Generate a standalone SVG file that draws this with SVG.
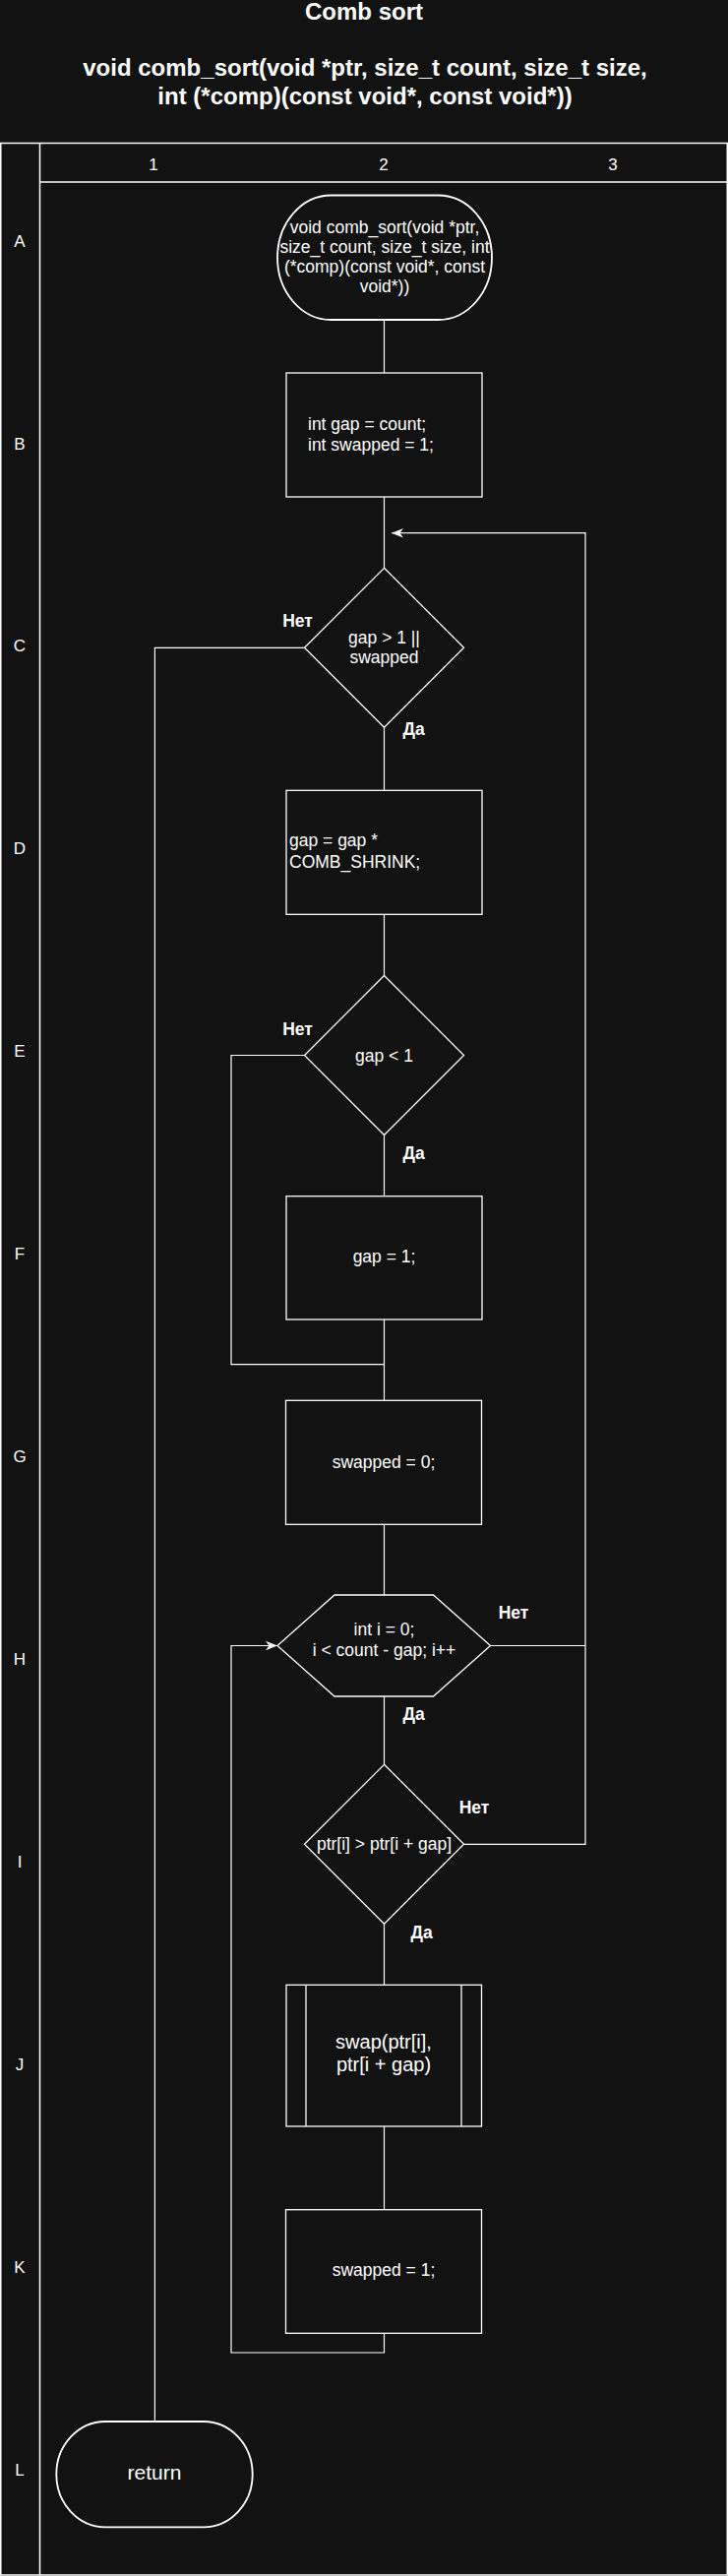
<svg xmlns="http://www.w3.org/2000/svg" width="740" height="2618" viewBox="0 0 740 2618">
<style>
  .bg { fill: #121212; }
  .grid { fill: none; stroke: #ffffff; stroke-width: 1.5; }
  .node { fill: #121212; stroke: #ffffff; stroke-width: 1.3; }
  .term { fill: #121212; stroke: #ffffff; stroke-width: 1.8; }
  .edge { fill: none; stroke: #ffffff; stroke-width: 1.2; }
  .t { font-family: "Liberation Sans", Arial, sans-serif; fill: #ffffff; font-size: 17.5px; }
  .c { text-anchor: middle; }
  .title { font-family: "Liberation Sans", Arial, sans-serif; fill: #ffffff; font-size: 24px; font-weight: bold; text-anchor: middle; }
  .lbl { font-family: "Liberation Sans", Arial, sans-serif; fill: #ffffff; font-size: 17.5px; font-weight: bold; text-anchor: middle; }
  .hdr { font-family: "Liberation Sans", Arial, sans-serif; fill: #ffffff; font-size: 17px; text-anchor: middle; }
</style>
<defs>
  <marker id="arrow" markerUnits="userSpaceOnUse" markerWidth="12" markerHeight="12" viewBox="0 0 10 10" refX="10" refY="5" orient="auto">
    <path d="M0,1 L10,5 L0,9 L3,5 z" fill="#ffffff"/>
  </marker>
</defs>
<rect class="bg" x="0" y="0" width="740" height="2618"/>

<g id="title">
  <text class="title" x="370" y="20">Comb sort</text>
  <text class="title" x="371" y="77">void comb_sort(void *ptr, size_t count, size_t size,</text>
  <text class="title" x="371" y="106">int (*comp)(const void*, const void*))</text>
</g>

<g id="table">
  <rect class="grid" x="0.75" y="145.5" width="738.5" height="2471.5"/>
  <line class="grid" x1="40.5" y1="145.5" x2="40.5" y2="2617"/>
  <line class="grid" x1="40.5" y1="185" x2="740" y2="185"/>
  <text class="hdr" x="156" y="172.7">1</text>
  <text class="hdr" x="390" y="172.7">2</text>
  <text class="hdr" x="623" y="172.7">3</text>
  <text class="hdr" x="20" y="250.6">A</text>
  <text class="hdr" x="20" y="456.5">B</text>
  <text class="hdr" x="20" y="662.4">C</text>
  <text class="hdr" x="20" y="868.3">D</text>
  <text class="hdr" x="20" y="1074.2">E</text>
  <text class="hdr" x="20" y="1280.1">F</text>
  <text class="hdr" x="20" y="1486">G</text>
  <text class="hdr" x="20" y="1691.9">H</text>
  <text class="hdr" x="20" y="1897.8">I</text>
  <text class="hdr" x="20" y="2103.7">J</text>
  <text class="hdr" x="20" y="2309.6">K</text>
  <text class="hdr" x="20" y="2515.5">L</text>
</g>

<g id="connectors">
  <path class="edge" d="M390.5,325 L390.5,379"/>
  <path class="edge" d="M390.5,505 L390.5,577.3"/>
  <path class="edge" d="M390.5,739.3 L390.5,803.3"/>
  <path class="edge" d="M309.5,658.3 L157.4,658.3 L157.4,2461"/>
  <path class="edge" d="M390.5,929.3 L390.5,991.5"/>
  <path class="edge" d="M309.5,1072.5 L235,1072.5 L235,1386.7 L390.5,1386.7"/>
  <path class="edge" d="M390.5,1153.5 L390.5,1215.7"/>
  <path class="edge" d="M390.5,1341 L390.5,1423.3"/>
  <path class="edge" d="M390.5,1549.3 L390.5,1621"/>
  <path class="edge" d="M498.5,1672.5 L595,1672.5"/>
  <path class="edge" d="M390.5,1724 L390.5,1793.3"/>
  <path class="edge" d="M471.5,1874.3 L595,1874.3 L595,541.7 L398,541.7" marker-end="url(#arrow)"/>
  <path class="edge" d="M390.5,1955.3 L390.5,2017.3"/>
  <path class="edge" d="M390.5,2161 L390.5,2245.7"/>
  <path class="edge" d="M390.5,2371.3 L390.5,2391 L235,2391 L235,1672.5 L282,1672.5" marker-end="url(#arrow)"/>
  <text class="lbl" x="302.5" y="637.3">Нет</text>
  <text class="lbl" x="420.6" y="747">Да</text>
  <text class="lbl" x="302.5" y="1051.7">Нет</text>
  <text class="lbl" x="420.6" y="1177.5">Да</text>
  <text class="lbl" x="522" y="1645">Нет</text>
  <text class="lbl" x="420.6" y="1748">Да</text>
  <text class="lbl" x="482" y="1842.7">Нет</text>
  <text class="lbl" x="428.6" y="1969.5">Да</text>
</g>

<g id="A-start">
  <rect class="term" x="282" y="198.5" width="218" height="126.5" rx="54.5" ry="63.25"/>
  <text class="t c" x="391" y="236.7">void comb_sort(void *ptr,</text>
  <text class="t c" x="391" y="256.7">size_t count, size_t size, int</text>
  <text class="t c" x="391" y="276.7">(*comp)(const void*, const</text>
  <text class="t c" x="391" y="296.7">void*))</text>
</g>

<g id="B-init">
  <rect class="node" x="291" y="379" width="199" height="126"/>
  <text class="t" x="313" y="436.5">int gap = count;</text>
  <text class="t" x="313" y="458">int swapped = 1;</text>
</g>

<g id="C-cond">
  <polygon class="node" points="390.5,577.3 471.5,658.3 390.5,739.3 309.5,658.3"/>
  <text class="t c" x="390.5" y="653.5">gap &gt; 1 ||</text>
  <text class="t c" x="390.5" y="674">swapped</text>
</g>

<g id="D-shrink">
  <rect class="node" x="291" y="803.3" width="199" height="126"/>
  <text class="t" x="294" y="860">gap = gap *</text>
  <text class="t" x="294" y="881.5">COMB_SHRINK;</text>
</g>

<g id="E-cond">
  <polygon class="node" points="390.5,991.5 471.5,1072.5 390.5,1153.5 309.5,1072.5"/>
  <text class="t c" x="390.5" y="1078.5">gap &lt; 1</text>
</g>

<g id="F-gap1">
  <rect class="node" x="291" y="1215.7" width="199" height="125.3"/>
  <text class="t c" x="390.5" y="1283.3">gap = 1;</text>
</g>

<g id="G-swapped0">
  <rect class="node" x="290.5" y="1423.3" width="199" height="126"/>
  <text class="t c" x="390" y="1491.7">swapped = 0;</text>
</g>

<g id="H-loop">
  <polygon class="node" points="282,1672.5 340,1621 440.5,1621 498.5,1672.5 440.5,1724 340,1724"/>
  <text class="t c" x="390.5" y="1661.7">int i = 0;</text>
  <text class="t c" x="390.5" y="1682.7">i &lt; count - gap; i++</text>
</g>

<g id="I-cmp">
  <polygon class="node" points="390.5,1793.3 471.5,1874.3 390.5,1955.3 309.5,1874.3"/>
  <text class="t c" x="390.5" y="1880">ptr[i] &gt; ptr[i + gap]</text>
</g>

<g id="J-swap">
  <rect class="node" x="291" y="2017.3" width="198.5" height="143.7"/>
  <line class="node" x1="311" y1="2017.3" x2="311" y2="2161"/>
  <line class="node" x1="469" y1="2017.3" x2="469" y2="2161"/>
  <text class="t c" x="390" y="2081.7" style="font-size:20px">swap(ptr[i],</text>
  <text class="t c" x="390" y="2105" style="font-size:20px">ptr[i + gap)</text>
</g>

<g id="K-swapped1">
  <rect class="node" x="290.5" y="2245.7" width="199" height="125.6"/>
  <text class="t c" x="390" y="2313.3">swapped = 1;</text>
</g>

<g id="L-return">
  <rect class="term" x="57.3" y="2461" width="199.4" height="107.3" rx="49.85" ry="53.65"/>
  <text class="t c" x="157" y="2520" style="font-size:21px">return</text>
</g>
</svg>
